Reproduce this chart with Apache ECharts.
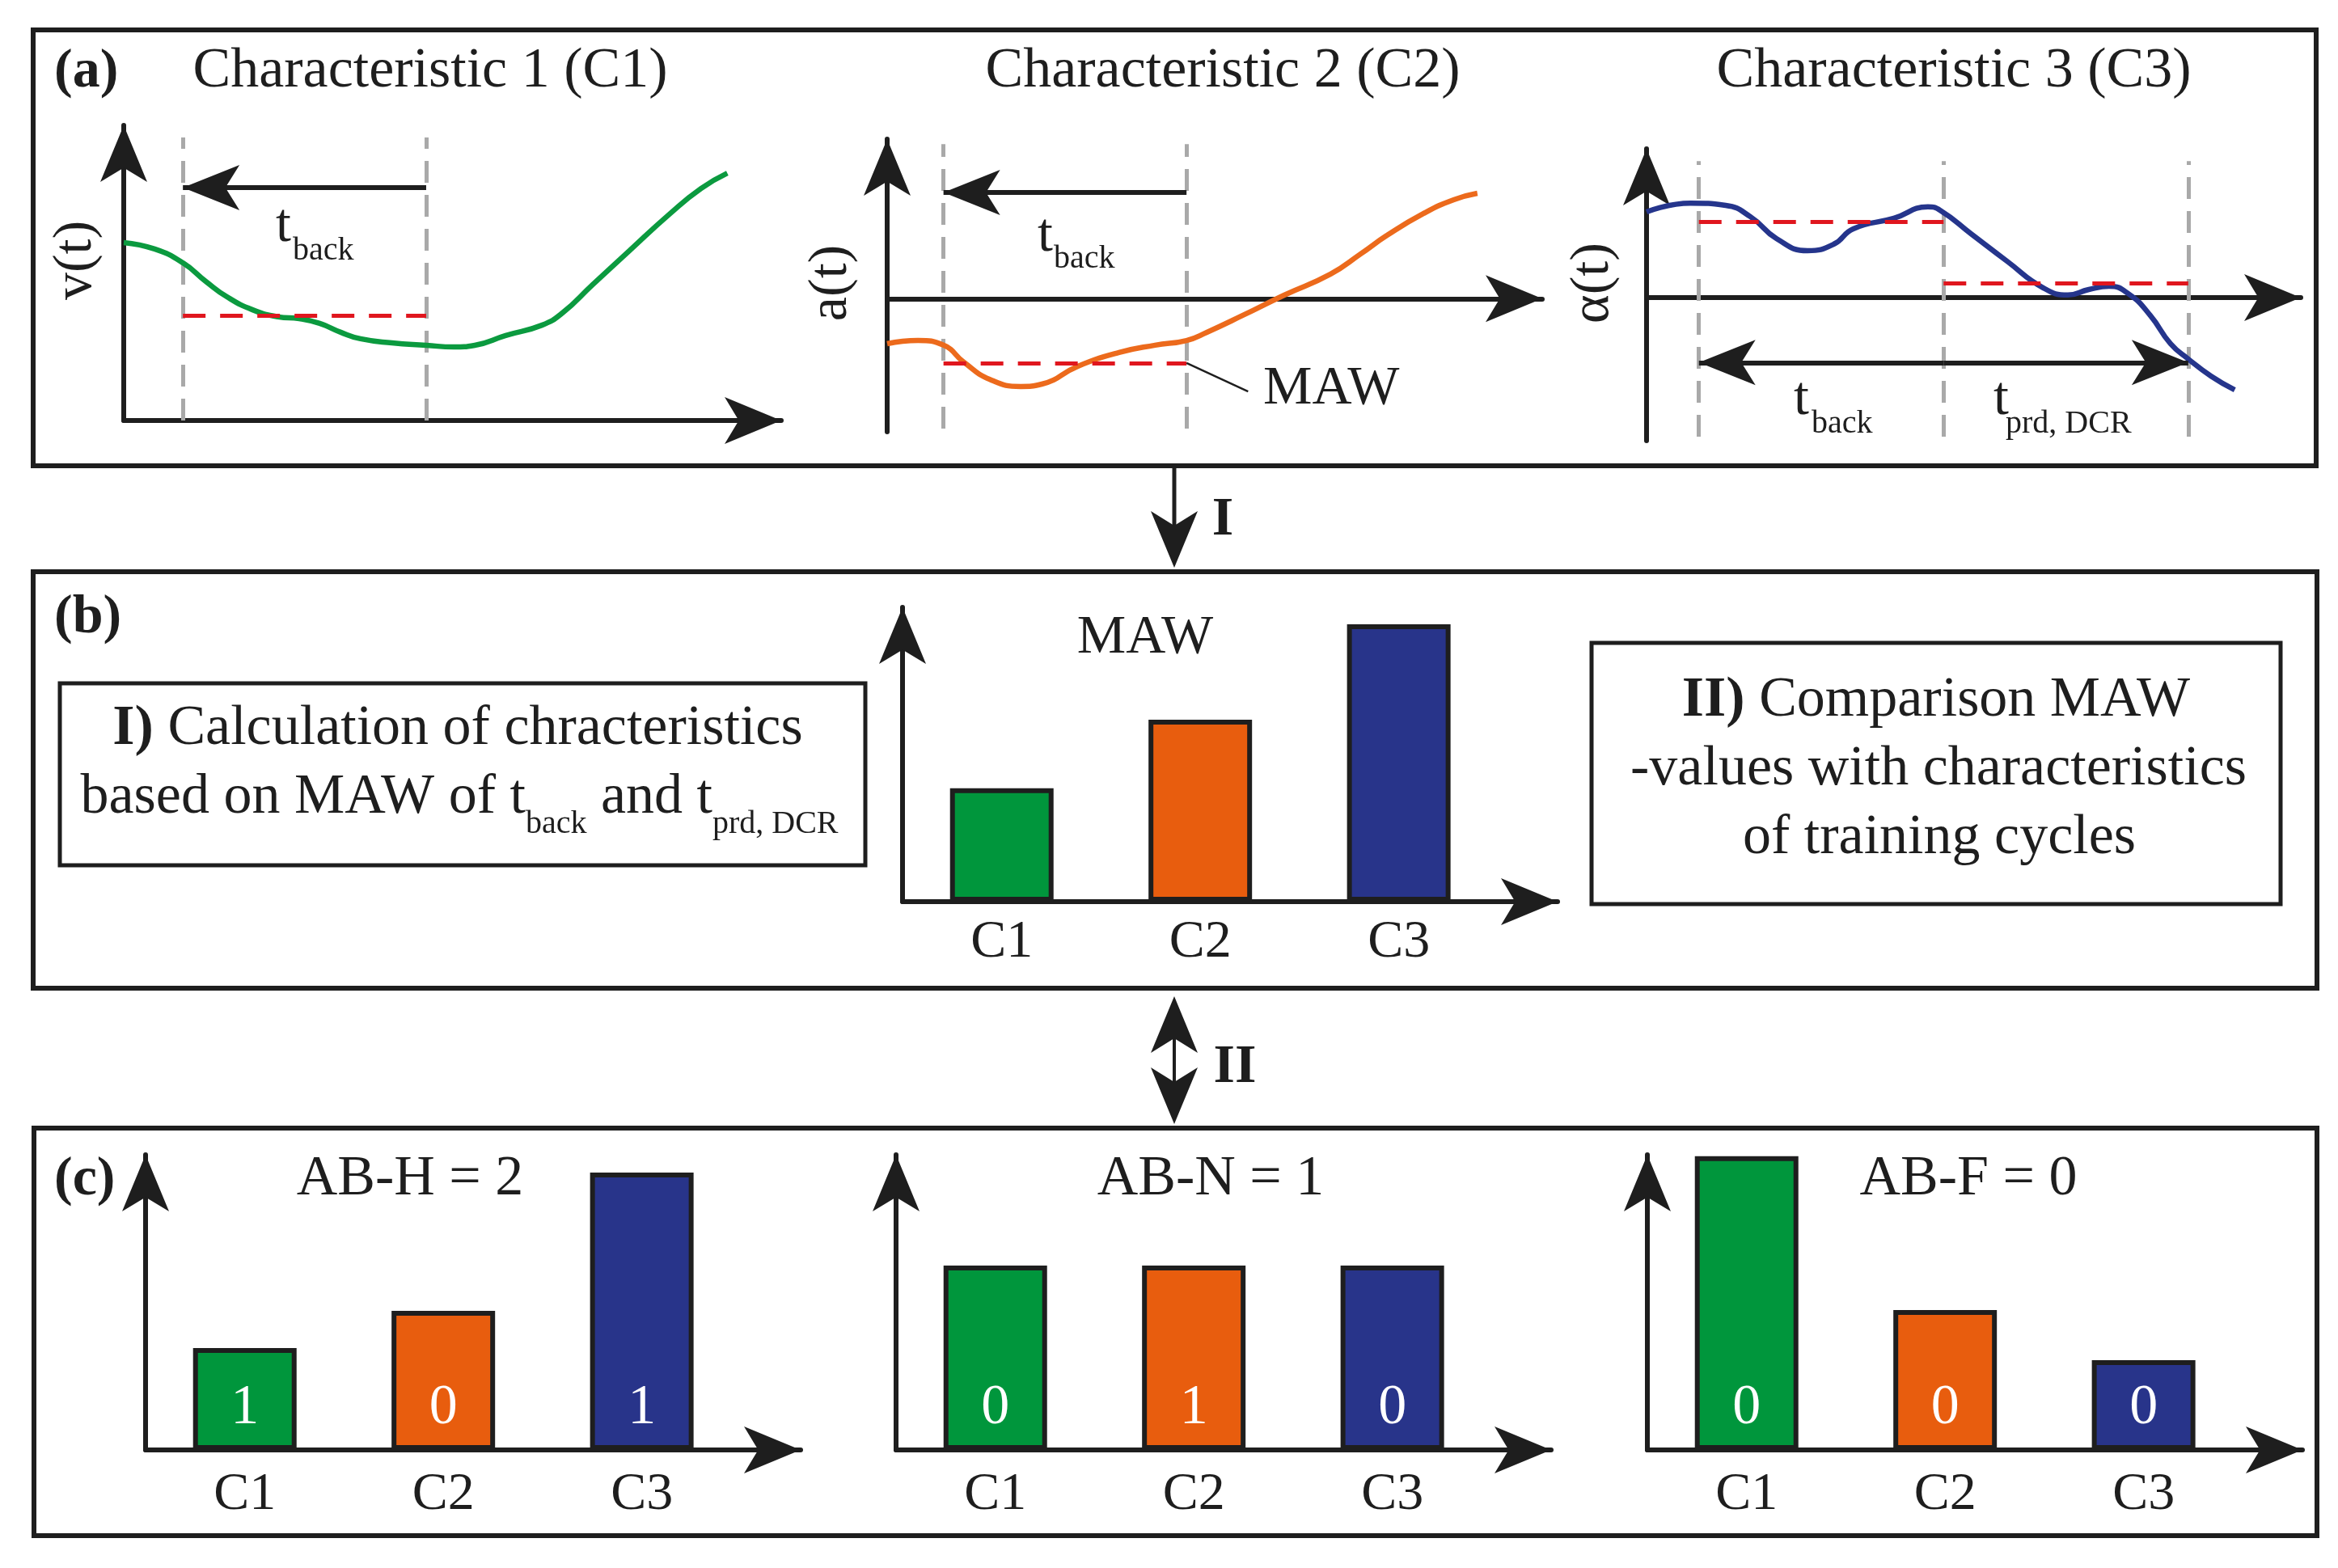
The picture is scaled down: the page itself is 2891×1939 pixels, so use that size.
<!DOCTYPE html>
<html><head><meta charset="utf-8">
<script src="https://cdn.jsdelivr.net/npm/echarts@6/dist/echarts.min.js"></script>
<style>html,body{margin:0;padding:0;background:#fff}#c{width:2891px;height:1939px}</style>
</head><body><div id="c"></div>
<script>
const FONT = '"Liberation Serif", "Times New Roman", serif';
const INK = '#1e1e1e';
const ARROW = 'path://M29,0L58,70L29,52.5L0,70Z';

// ---------- data ----------
const curveC1 = [[0,60.3],[4.7,58.1],[9.0,53.4],[12.5,47.1],[15.7,41.9],[19.6,37.5],[23.5,35.1],[26.7,34.5],[29.8,32.9],[33.0,29.9],[36.0,27.7],[40.8,26.3],[46.0,25.5],[50.2,24.9],[53.4,25.5],[58.1,28.8],[63.6,32.3],[66.7,36.4],[71.3,46.0],[76.9,57.5],[83.1,70.1],[87.8,78.6],[91.8,83.8]];
const curveC2 = [[0,-15.4],[4.7,-14.3],[8.6,-15.9],[11.7,-21.7],[15.7,-27.6],[20.4,-30.0],[23.6,-29.2],[29.1,-23.1],[35.4,-18.4],[40.9,-15.9],[45.7,-14.3],[48.8,-11.5],[54.3,-5.7],[60.6,1.2],[67.7,8.4],[72.3,15.3],[76.3,21.6],[81.9,29.1],[86.5,33.8],[90.1,36.0]];
const curveC3 = [[0,29.4],[6.7,32.4],[12.1,31.6],[15.9,27.7],[19.9,20.2],[24.6,16.1],[28.6,18.3],[31.6,23.6],[37.8,27.2],[43.0,31.1],[44.9,29.9],[49.6,21.9],[55.1,12.5],[60.6,3.4],[64.4,0.9],[67.6,2.8],[70.7,3.9],[73.8,1.1],[77.0,-6.1],[80.1,-15.8],[82.8,-21.0],[86.3,-26.9],[89.9,-31.6]];
const windowC1 = [9.0, 46.0];          // t_back window bounds
const windowC2 = [8.6, 45.7];
const windowC3 = [8.0, 45.4, 82.8];    // t_back and t_prd,DCR bounds
const guideC1 = [0, 95.9];
const guideC2 = [-44.4, 52.8];
const guideC3 = [-47.6, 46.8];
const mawC1 = [35.6];
const mawC2 = [-22.0];
const mawC3 = [26.1, 5.0];
const arrowYC1 = 78.9;
const arrowYC2 = 36.3;
const arrowYC3 = -22.2;
const leaderC2 = [[45.7, -22.0], [55.1, -31.7]];

const categories = ['C1', 'C2', 'C3'];
const mawValues = [38.5, 61.8, 94.2];
const abhValues = [34.5, 47.1, 94.0];
const abnValues = [62.5, 62.5, 62.5];
const abfValues = [99.5, 47.4, 30.4];
const abhFlags = [1, 0, 1];
const abnFlags = [0, 1, 0];
const abfFlags = [0, 0, 0];
const classTitles = ['AB-H = 2', 'AB-N = 1', 'AB-F = 0'];
const charTitles = ['Characteristic 1 (C1)', 'Characteristic 2 (C2)', 'Characteristic 3 (C3)'];
const charAxisNames = ['v(t)', 'a(t)', 'α(t)'];
const barColors = ['#00963c', '#e85d0e', '#28348a'];
const lineColors = ['#0b9a3f', '#ec6a1c', '#25358c'];

// ---------- layout ----------
const grids = [
  {left:153, top:155, width:813, height:365},
  {left:1097, top:172, width:810, height:362},
  {left:2036, top:184, width:809, height:361},
  {left:1116, top:751, width:810, height:364},
  {left:180, top:1428, width:810, height:365},
  {left:1108, top:1428, width:810, height:365},
  {left:2037, top:1428, width:810, height:365}
].map(g => Object.assign({containLabel:false, outerBoundsMode:'none'}, g));

function arrowAxis(extra) {
  return Object.assign({
    axisLine: {show:true, onZero:true, symbol:['none', ARROW], symbolSize:[58,70], symbolOffset:[0,-35],
      lineStyle:{color:INK, width:6}},
    axisTick:{show:false}, axisLabel:{show:false}, splitLine:{show:false}, splitArea:{show:false}
  }, extra);
}
const catFmt = v => { const r = Math.round(v); return Math.abs(v - r) < 1e-6 && r >= 1 && r <= 3 ? categories[r-1] : ''; };
const xAxes = [
  arrowAxis({gridIndex:0, type:'value', min:0, max:100}),
  arrowAxis({gridIndex:1, type:'value', min:0, max:100}),
  arrowAxis({gridIndex:2, type:'value', min:0, max:100})
];
const yAxes = [
  arrowAxis({gridIndex:0, type:'value', min:0, max:100}),
  arrowAxis({gridIndex:1, type:'value', min:-45.5, max:54.5}),
  arrowAxis({gridIndex:2, type:'value', min:-49, max:51})
];
[3,4,5,6].forEach(k => {
  xAxes.push(arrowAxis({gridIndex:k, type:'value', min:0.5, max:3.8, interval:0.5,
    axisLabel:{show:true, formatter:catFmt, fontSize:66, fontFamily:FONT, color:INK, margin: k===3 ? 18 : 23}}));
  yAxes.push(arrowAxis({gridIndex:k, type:'value', min:0, max:100}));
});

const series = [];
const curves = [curveC1, curveC2, curveC3];
const windows = [windowC1, windowC2, windowC3];
const guides = [guideC1, guideC2, guideC3];
curves.forEach((c, i) => {
  series.push({type:'line', xAxisIndex:i, yAxisIndex:i, data:c, smooth:true, symbol:'none', showSymbol:false,
    lineStyle:{color:lineColors[i], width:6.5}, z:3, silent:true, clip:false});
  series.push({type:'line', xAxisIndex:i, yAxisIndex:i, data:[], silent:true,
    markLine:{silent:true, symbol:'none', label:{show:false}, z:1, animation:false,
      lineStyle:{color:'#a9a9a9', width:5, type:[27,15]},
      data: windows[i].map(x => [{coord:[x, guides[i][0]]}, {coord:[x, guides[i][1]]}])}});
});
function mawLine(i, segs) {
  series.push({type:'line', xAxisIndex:i, yAxisIndex:i, data:[], silent:true,
    markLine:{silent:true, symbol:'none', label:{show:false}, z:4, animation:false,
      lineStyle:{color:'#e0161e', width:5, type:[28,18]}, data: segs}});
}
mawLine(0, [[{coord:[windowC1[0], mawC1[0]]}, {coord:[windowC1[1], mawC1[0]]}]]);
mawLine(1, [[{coord:[windowC2[0], mawC2[0]]}, {coord:[windowC2[1], mawC2[0]]}]]);
mawLine(2, [[{coord:[windowC3[0], mawC3[0]]}, {coord:[windowC3[1], mawC3[0]]}],
            [{coord:[windowC3[1], mawC3[1]]}, {coord:[windowC3[2], mawC3[1]]}]]);
function arrowLine(i, segs) {
  series.push({type:'line', xAxisIndex:i, yAxisIndex:i, data:[], silent:true,
    markLine:{silent:true, symbol:['none', ARROW], symbolSize:[56,70], symbolOffset:[[0,0],[0,35]],
      label:{show:false}, z:5, animation:false, lineStyle:{color:INK, width:6, type:'solid'}, data: segs}});
}
arrowLine(0, [[{coord:[windowC1[1], arrowYC1]}, {coord:[windowC1[0], arrowYC1]}]]);
arrowLine(1, [[{coord:[windowC2[1], arrowYC2]}, {coord:[windowC2[0], arrowYC2]}]]);
arrowLine(2, [[{coord:[windowC3[1], arrowYC3]}, {coord:[windowC3[0], arrowYC3]}],
              [{coord:[windowC3[1], arrowYC3]}, {coord:[windowC3[2], arrowYC3]}]]);
series.push({type:'line', xAxisIndex:1, yAxisIndex:1, data:[], silent:true,
  markLine:{silent:true, symbol:'none', label:{show:false}, z:4, animation:false,
    lineStyle:{color:INK, width:2.5, type:'solid'},
    data:[[{coord:leaderC2[0]}, {coord:leaderC2[1]}]]}});

function barSeries(idx, values, flags) {
  return {type:'bar', xAxisIndex:idx, yAxisIndex:idx, barWidth:128, silent:true, z:3,
    data: values.map((v, i) => ({value:[i+1, v], itemStyle:{color:barColors[i]}})),
    itemStyle:{borderColor:INK, borderWidth:6},
    label: flags ? {show:true, position:'insideBottom', distance:16, color:'#fff', fontSize:70,
      fontFamily:FONT, formatter: p => String(flags[p.dataIndex])} : {show:false}};
}
series.push(barSeries(3, mawValues, null));
series.push(barSeries(4, abhValues, abhFlags));
series.push(barSeries(5, abnValues, abnFlags));
series.push(barSeries(6, abfValues, abfFlags));

// ---------- decoration (frames, text, connectors) ----------
const G = [];
function T(x, y, text, size, o) {
  o = o || {};
  const al = o.align || 'center';
  G.push({type:'text', x:x, y:y, rotation:o.rot || 0, z:100, silent:true,
    style:{text:text, fontSize:size, fontFamily:FONT, fontWeight:o.bold ? 'bold' : 'normal', fill:INK,
      textAlign:al, align:al, textVerticalAlign:'middle', verticalAlign:'middle', rich:o.rich}});
}
function R(x0, y0, x1, y1, w) {
  G.push({type:'rect', z:90, silent:true, shape:{x:x0, y:y0, width:x1-x0, height:y1-y0},
    style:{fill:'none', stroke:INK, lineWidth:w}});
}
function L(x0, y0, x1, y1, w) {
  G.push({type:'line', z:90, silent:true, shape:{x1:x0, y1:y0, x2:x1, y2:y1}, style:{stroke:INK, lineWidth:w}});
}
function head(x, tipY, dir) { // dir: +1 pointing down, -1 pointing up
  G.push({type:'polygon', z:91, silent:true, shape:{points:[[x, tipY], [x+29, tipY - dir*70], [x, tipY - dir*52], [x-29, tipY - dir*70]]},
    style:{fill:INK}});
}
R(41, 37, 2864, 576, 6);
R(41, 707, 2865, 1222, 6);
R(42, 1395, 2865, 1899, 6);
R(74, 845, 1070, 1070, 5);
R(1968, 795, 2820, 1118, 5);
// connector I
L(1452, 576, 1452, 660, 5); head(1452, 702, 1);
T(1512, 643, 'I', 68, {bold:true});
// connector II
L(1452, 1268, 1452, 1352, 4); head(1452, 1232, -1); head(1452, 1390, 1);
T(1527, 1320, 'II', 68, {bold:true});

T(67, 89, '(a)', 68, {bold:true, align:'left'});
T(67, 764, '(b)', 68, {bold:true, align:'left'});
T(67, 1459, '(c)', 68, {bold:true, align:'left'});
[532, 1512, 2416].forEach((x, i) => T(x, 89, charTitles[i], 70));
[[94, 322], [1028, 350], [1970, 350]].forEach((p, i) => T(p[0], p[1], charAxisNames[i], 68, {rot:Math.PI/2}));

// t labels
T(341, 280, 't', 68, {align:'left'});  T(362, 310, 'back', 40, {align:'left'});
T(1283, 292, 't', 68, {align:'left'}); T(1303, 320, 'back', 40, {align:'left'});
T(2218, 494, 't', 68, {align:'left'}); T(2240, 524, 'back', 40, {align:'left'});
T(2465, 494, 't', 68, {align:'left'}); T(2480, 524, 'prd, DCR', 40, {align:'left'});
T(1562, 481, 'MAW', 68, {align:'left'});

const RICH = {
  b:{fontSize:70, fontFamily:FONT, fontWeight:'bold', fill:INK, color:INK},
  r:{fontSize:70, fontFamily:FONT, fill:INK, color:INK},
  s:{fontSize:40, fontFamily:FONT, fill:INK, color:INK, padding:[64,0,0,0]}
};
T(566, 902, '{b|I)}{r| Calculation of chracteristics}', 70, {rich:RICH});
T(568, 987, '{r|based on MAW of t}{s|back}{r| and t}{s|prd, DCR}', 70, {rich:RICH});
T(2394, 867, '{b|II)}{r| Comparison MAW}', 70, {rich:RICH});
T(2397, 952, '-values with characteristics', 70);
T(2398, 1037, 'of training cycles', 70);

T(1416, 789, 'MAW', 68);
[507, 1497, 2434].forEach((x, i) => T(x, 1459, classTitles[i], 70));

const chart = echarts.init(document.getElementById('c'));
chart.setOption({
  backgroundColor:'#ffffff',
  animation:false,
  grid: grids,
  xAxis: xAxes,
  yAxis: yAxes,
  series: series,
  graphic: {elements: G}
});
</script></body></html>
